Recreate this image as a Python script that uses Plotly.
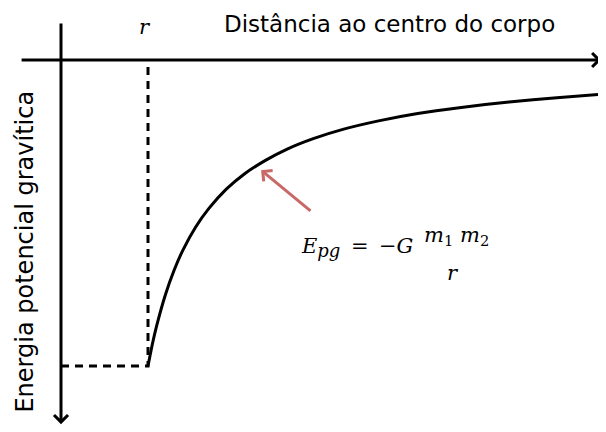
import plotly.graph_objects as go

# distance to the body's centre (r = 1 at the dashed line) and potential energy
distance = [1.0, 1.05, 1.1, 1.2, 1.3, 1.4, 1.55, 1.7, 1.9, 2.1, 2.35, 2.6, 2.9,
            3.25, 3.65, 4.1, 4.6, 5.15, 5.7, 6.26]
energy = [-1.0, -0.929, -0.868, -0.767, -0.687, -0.622, -0.545, -0.485, -0.422, -0.374,
          -0.328, -0.291, -0.257, -0.226, -0.199, -0.175, -0.155, -0.137, -0.123, -0.111]

r_mark = 1.0
e_min = -1.0

x_label = "Distância ao centro do corpo"
y_label = "Energia potencial gravítica"

fig = go.Figure()

# curve
fig.add_trace(go.Scatter(x=distance, y=energy, mode='lines',
                         line=dict(color='black', width=3, shape='spline', smoothing=0.6),
                         hoverinfo='none'))
# dashed guides
fig.add_trace(go.Scatter(x=[0, r_mark, r_mark], y=[e_min, e_min, 0], mode='lines',
                         line=dict(color='black', width=3, dash='8px,6px'),
                         hoverinfo='none'))

ann = []
# horizontal axis arrow
ann.append(dict(x=6.21, y=0, ax=-0.47, ay=0, xref='x', yref='y', axref='x', ayref='y',
                showarrow=True, arrowhead=4, arrowsize=0.9, arrowwidth=3,
                arrowcolor='black', text='', standoff=0))
# vertical axis arrow
ann.append(dict(x=0, y=-1.19, ax=0, ay=0.124, xref='x', yref='y', axref='x', ayref='y',
                showarrow=True, arrowhead=4, arrowsize=0.9, arrowwidth=3,
                arrowcolor='black', text='', standoff=0))
# red pointer to the curve
ann.append(dict(x=2.30, y=-0.36, ax=2.885, ay=-0.497, xref='x', yref='y', axref='x', ayref='y',
                showarrow=True, arrowhead=4, arrowsize=0.9, arrowwidth=3,
                arrowcolor='rgba(192,80,77,0.85)', text='', standoff=0))

# labels
ann.append(dict(x=0.966, y=0.108, xref='x', yref='y', showarrow=False,
                text='<i>r</i>', font=dict(family='DejaVu Serif', size=21, color='black')))
ann.append(dict(x=3.776, y=0.118, xref='x', yref='y', showarrow=False,
                text=x_label, font=dict(family='DejaVu Sans', size=23, color='black')))
ann.append(dict(x=-0.414, y=-0.626, xref='x', yref='y', showarrow=False, textangle=-90,
                text=y_label, font=dict(family='DejaVu Sans', size=24, color='black')))

# formula
fnt = dict(family='DejaVu Serif', size=21, color='black')
ann.append(dict(x=2.73, y=-0.612, xref='x', yref='y', showarrow=False, xanchor='left',
                text='<i>E</i><sub><span style="font-size:18px"><i>pg</i></span></sub>'
                     '&#8194;=&#8194;−<i>G</i>', font=fnt))
ann.append(dict(x=4.55, y=-0.575, xref='x', yref='y', showarrow=False,
                text='<i>m</i><sub>1</sub> <i>m</i><sub>2</sub>', font=fnt))
ann.append(dict(x=4.5, y=-0.695, xref='x', yref='y', showarrow=False,
                text='<i>r</i>', font=fnt))

# the page body has an 8px margin, so the figure is 8px smaller than the window
fig.update_layout(
    width=598, height=424,
    margin=dict(l=0, r=0, t=0, b=0),
    paper_bgcolor='white', plot_bgcolor='white',
    showlegend=False,
    xaxis=dict(range=[-53 / 87, 545 / 87], visible=False, fixedrange=True),
    yaxis=dict(range=[-372 / 306, 52 / 306], visible=False, fixedrange=True),
    annotations=ann,
)

fig.write_html("out.html")
